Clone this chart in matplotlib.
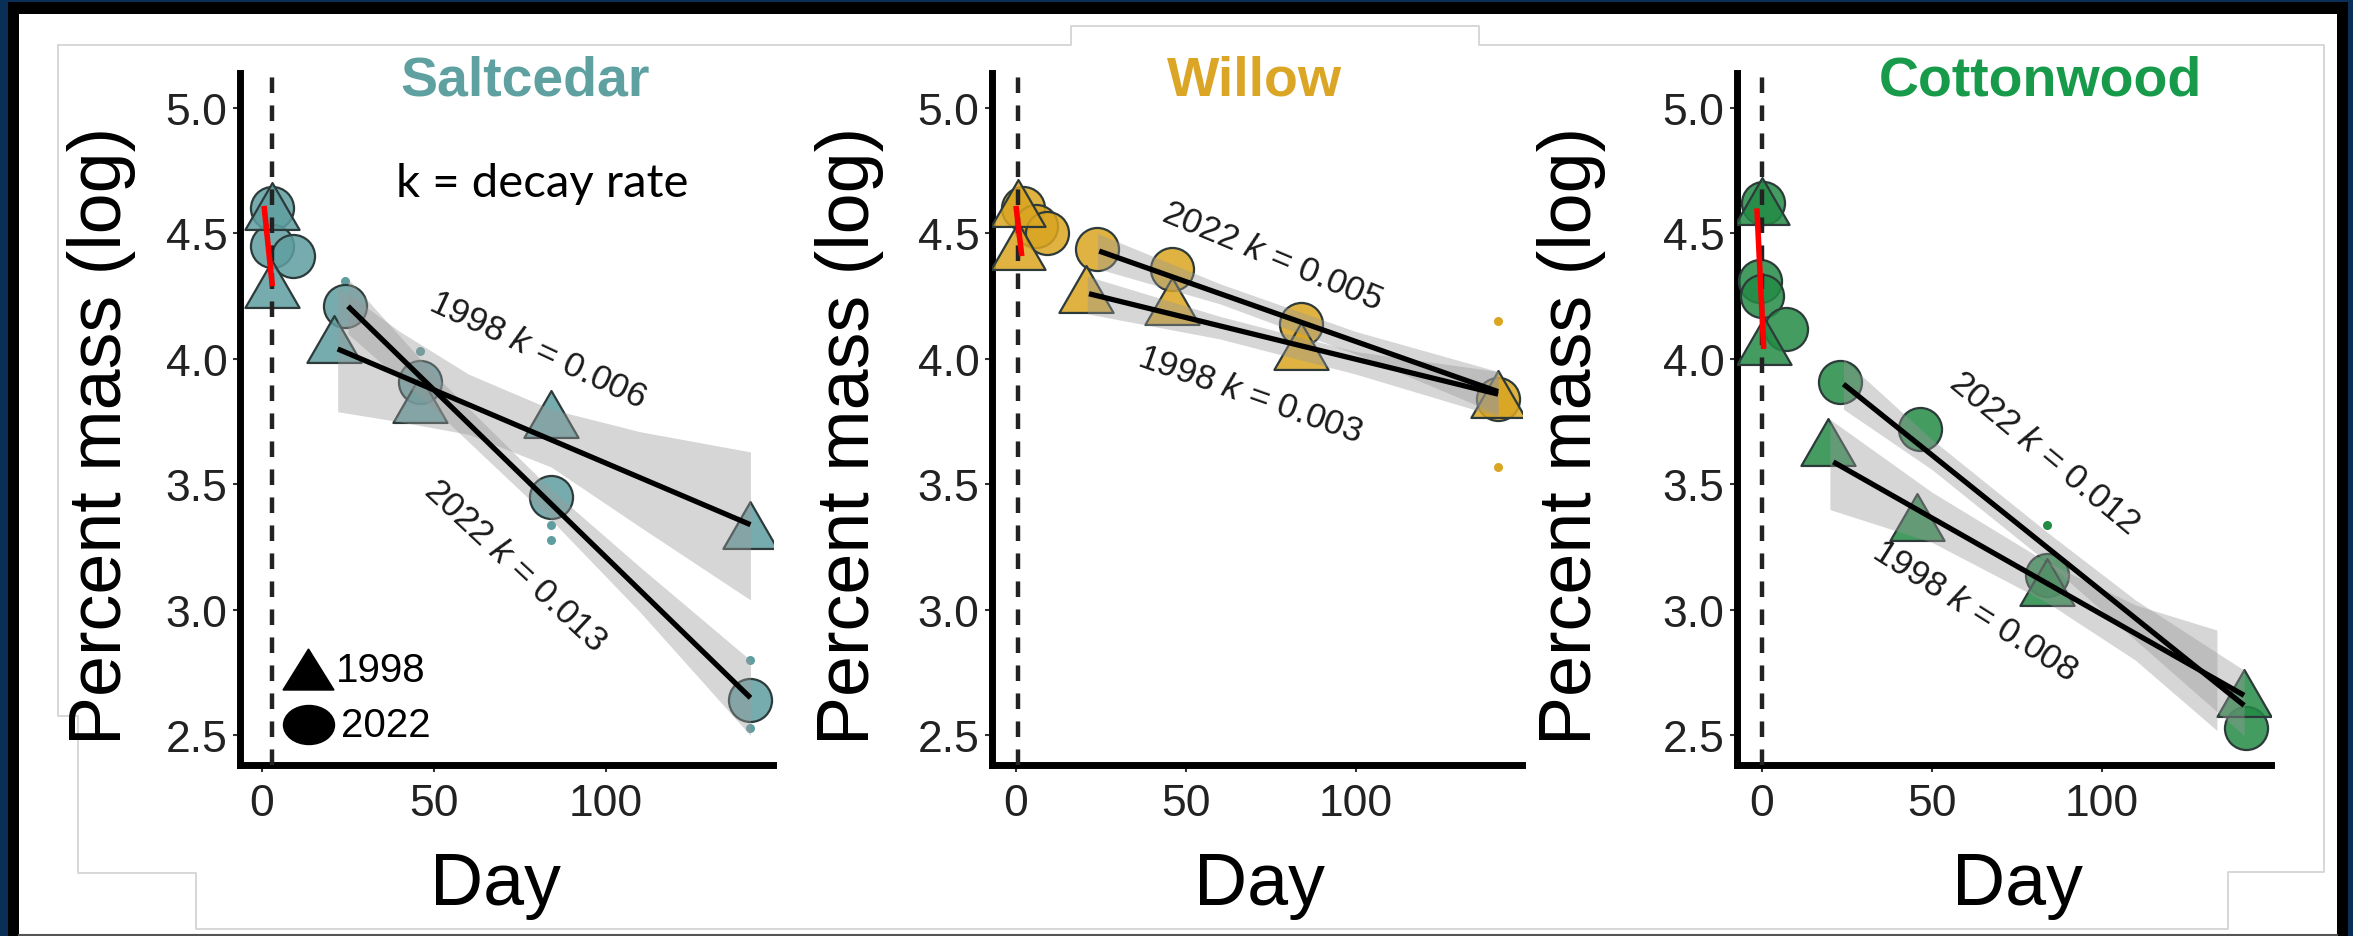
import matplotlib
matplotlib.use('Agg')
import matplotlib.pyplot as plt
from matplotlib.path import Path
from matplotlib.patches import Rectangle, Ellipse, Polygon
from matplotlib.transforms import Affine2D
from matplotlib.colors import to_rgba
import matplotlib.lines as mlines

plt.rcParams['font.family'] = ['Liberation Sans', 'DejaVu Sans']
plt.rcParams['mathtext.fontset'] = 'custom'
plt.rcParams['mathtext.rm'] = 'Liberation Sans'
plt.rcParams['mathtext.it'] = 'Liberation Sans:italic'

W, H = 2353, 937

# ---------------- data ----------------
titles = ['Saltcedar', 'Willow', 'Cottonwood']
colors = ['#5f9ea0', '#daa520', '#238b45']
title_colors = ['#5fa0a0', '#dba525', '#179a4a']

# Saltcedar
sc_tri_days = [3, 3, 21, 46, 84, 142]
sc_tri_vals = [4.61, 4.30, 4.08, 3.84, 3.78, 3.34]
sc_cir_days = [3, 3, 9, 24, 46, 84, 142]
sc_cir_vals = [4.60, 4.45, 4.41, 4.21, 3.91, 3.45, 2.64]
sc_dot_days = [24, 46, 84, 84, 142, 142]
sc_dot_vals = [4.31, 4.03, 3.34, 3.28, 2.80, 2.53]
sc_fit98_days = [22, 142]
sc_fit98_vals = [4.04, 3.34]
sc_fit22_days = [25, 142]
sc_fit22_vals = [4.21, 2.65]
sc_red_days = [0.6, 3]
sc_red_vals = [4.61, 4.29]
sc_band98_days = [22, 40, 60, 84, 110, 142]
sc_band98_lo = [3.79, 3.75, 3.70, 3.57, 3.33, 3.04]
sc_band98_hi = [4.29, 4.11, 3.94, 3.80, 3.71, 3.63]
sc_band22_days = [25, 50, 84, 110, 142]
sc_band22_lo = [4.10, 3.80, 3.36, 2.99, 2.50]
sc_band22_hi = [4.32, 3.94, 3.48, 3.17, 2.80]

# Willow
wi_tri_days = [0.5, 0.5, 20.5, 46, 84, 142]
wi_tri_vals = [4.62, 4.45, 4.28, 4.23, 4.05, 3.86]
wi_cir_days = [2, 6, 9, 24, 46, 84, 142]
wi_cir_vals = [4.60, 4.53, 4.50, 4.44, 4.36, 4.14, 3.84]
wi_dot_days = [142, 142]
wi_dot_vals = [4.15, 3.57]
wi_fit98_days = [21.5, 142]
wi_fit98_vals = [4.26, 3.86]
wi_fit22_days = [24.5, 142]
wi_fit22_vals = [4.43, 3.87]
wi_red_days = [0, 1.7]
wi_red_vals = [4.61, 4.41]
wi_band98_days = [21, 60, 100, 142]
wi_band98_lo = [4.18, 4.08, 3.94, 3.77]
wi_band98_hi = [4.33, 4.17, 4.03, 3.95]
wi_band22_days = [24, 60, 100, 142]
wi_band22_lo = [4.36, 4.22, 4.02, 3.78]
wi_band22_hi = [4.50, 4.30, 4.11, 3.95]

# Cottonwood
co_tri_days = [0, 0.5, 19.5, 45.7, 84, 142]
co_tri_vals = [4.63, 4.07, 3.67, 3.37, 3.11, 2.67]
co_cir_days = [0.3, -0.5, 0, 7, 23, 46.5, 84, 142.6]
co_cir_vals = [4.62, 4.31, 4.25, 4.12, 3.91, 3.72, 3.14, 2.53]
co_dot_days = [84]
co_dot_vals = [3.34]
co_fit98_days = [21, 142]
co_fit98_vals = [3.59, 2.66]
co_fit22_days = [24, 142]
co_fit22_vals = [3.90, 2.62]
co_red_days = [-1.5, 0.5]
co_red_vals = [4.60, 4.04]
co_band98_days = [20, 50, 84, 110, 134]
co_band98_lo = [3.40, 3.27, 3.03, 2.80, 2.52]
co_band98_hi = [3.76, 3.47, 3.19, 3.02, 2.92]
co_band22_days = [24, 50, 84, 110, 142]
co_band22_lo = [3.80, 3.56, 3.19, 2.88, 2.50]
co_band22_hi = [4.00, 3.68, 3.31, 3.04, 2.76]

# annotation labels
sc_labels = ['1998 $k$ = 0.006', '2022 $k$ = 0.013']
wi_labels = ['2022 $k$ = 0.005', '1998 $k$ = 0.003']
co_labels = ['2022 $k$ = 0.012', '1998 $k$ = 0.008']

x_ticks = [0, 50, 100]
y_ticks = [2.5, 3.0, 3.5, 4.0, 4.5, 5.0]
y_ticklabels = ['2.5', '3.0', '3.5', '4.0', '4.5', '5.0']
legend_labels = ['1998', '2022']

# --------------- layout -----------------
fig = plt.figure(figsize=(W / 100, H / 100), dpi=100)
fig.patch.set_facecolor('#0a2f57')
px = Affine2D().scale(1.0 / W, -1.0 / H).translate(0, 1) + fig.transFigure

fig.patches.append(Rectangle((8, 3), 2340, 940, transform=px, facecolor='black',
                             edgecolor='none', zorder=-3))
fig.patches.append(Rectangle((19, 15), 2318, 921, transform=px, facecolor='white',
                             edgecolor='none', zorder=-2))
# faint outlines of pasted panels
deco = [
    [(58, 47), (58, 717), (78, 717), (78, 874), (196, 874), (196, 930), (2228, 930),
     (2228, 873), (2324, 873), (2324, 46), (1479, 46), (1479, 27), (1071, 27),
     (1071, 46), (58, 46)],
]
for d in deco:
    xs, ys = zip(*d)
    fig.lines.append(mlines.Line2D(xs, ys, transform=px, color='#d4d4d4', lw=1.3, zorder=-1))
fig.lines.append(mlines.Line2D([19, 2337], [935.5, 935.5], transform=px, color='#555555',
                               lw=1.5, zorder=-1))

axes_px = [(240, 773), (992, 1522), (1737, 2271)]
zero_px = [262, 1016, 1762]
px_per_day = [3.44, 3.395, 3.395]
top_px, bot_px = 74, 766
ylim = (5.0 - (bot_px - 109) / 251.0, 5.0 + (109 - top_px) / 251.0)
vline_day = [3, 0.6, 0]

data = [
    dict(tri=(sc_tri_days, sc_tri_vals), cir=(sc_cir_days, sc_cir_vals), dot=(sc_dot_days, sc_dot_vals),
         fit98=(sc_fit98_days, sc_fit98_vals), fit22=(sc_fit22_days, sc_fit22_vals),
         red=(sc_red_days, sc_red_vals),
         b98=(sc_band98_days, sc_band98_lo, sc_band98_hi), b22=(sc_band22_days, sc_band22_lo, sc_band22_hi),
         labels=sc_labels, lpos=[(80, 4.04, -25), (73.5, 3.18, -43)]),
    dict(tri=(wi_tri_days, wi_tri_vals), cir=(wi_cir_days, wi_cir_vals), dot=(wi_dot_days, wi_dot_vals),
         fit98=(wi_fit98_days, wi_fit98_vals), fit22=(wi_fit22_days, wi_fit22_vals),
         red=(wi_red_days, wi_red_vals),
         b98=(wi_band98_days, wi_band98_lo, wi_band98_hi), b22=(wi_band22_days, wi_band22_lo, wi_band22_hi),
         labels=wi_labels, lpos=[(75.4, 4.41, -22.6), (69, 3.86, -19.3)]),
    dict(tri=(co_tri_days, co_tri_vals), cir=(co_cir_days, co_cir_vals), dot=(co_dot_days, co_dot_vals),
         fit98=(co_fit98_days, co_fit98_vals), fit22=(co_fit22_days, co_fit22_vals),
         red=(co_red_days, co_red_vals),
         b98=(co_band98_days, co_band98_lo, co_band98_hi), b22=(co_band22_days, co_band22_lo, co_band22_hi),
         labels=co_labels, lpos=[(83, 3.63, -39.6), (62.7, 3.00, -32.3)]),
]

tri_marker = Path([(0, 0.866), (-1, -0.866), (1, -0.866), (0, 0.866)],
                  [Path.MOVETO, Path.LINETO, Path.LINETO, Path.CLOSEPOLY])

title_x = [525, 1254, 2040]
ylab_x = [102, 850, 1572]
day_x = [495, 1260, 2018]

for i in range(3):
    l, r = axes_px[i]
    ax = fig.add_axes([l / W, 1 - bot_px / H, (r - l) / W, (bot_px - top_px) / H])
    ax.set_facecolor('none')
    ax.set_zorder(1)
    xl = (l - zero_px[i]) / px_per_day[i]
    xr = (r - zero_px[i]) / px_per_day[i]
    ax.set_xlim(xl, xr)
    ax.set_ylim(*ylim)
    for s in ['top', 'right']:
        ax.spines[s].set_visible(False)
    for s in ['left', 'bottom']:
        ax.spines[s].set_linewidth(5)
        ax.spines[s].set_color('black')
        ax.spines[s].set_capstyle('projecting')
    ax.set_xticks(x_ticks)
    ax.set_yticks(y_ticks)
    ax.set_yticklabels(y_ticklabels)
    ax.tick_params(axis='both', length=5, width=1.5, color='#333333',
                   labelsize=32, labelcolor='#222222', pad=4)
    ax.tick_params(axis='x', pad=8)

    d = data[i]
    c = colors[i]
    face = to_rgba(c, 0.85)

    ax.axvline(vline_day[i], color='#222222', lw=3.2, ls=(0, (3.5, 2.8)), zorder=4.5)
    ax.plot(*d['dot'], ls='none', marker='o', ms=6.5, color=c, mec='none', zorder=2)
    ax.plot(*d['cir'], ls='none', marker='o', ms=31, mfc=face, mec='#2d3a3a', mew=1.6, zorder=3)
    ax.plot(*d['tri'], ls='none', marker=tri_marker, ms=39, mfc=face, mec='#2d3a3a', mew=1.6, zorder=3.2)
    for key in ['b98', 'b22']:
        bd, lo, hi = d[key]
        ax.fill_between(bd, lo, hi, color='#999999', alpha=0.4, lw=0, zorder=4)
    ax.plot(*d['fit98'], color='black', lw=3.8, solid_capstyle='butt', zorder=5)
    ax.plot(*d['fit22'], color='black', lw=3.8, solid_capstyle='butt', zorder=5)
    ax.plot(*d['red'], color='#ff0000', lw=4, solid_capstyle='butt', zorder=6)

    for lab, (tx, ty, rot) in zip(d['labels'], d['lpos']):
        ax.text(tx, ty, lab, rotation=rot, rotation_mode='anchor', ha='center', va='center',
                fontsize=25.5, color='#1a1a1a', zorder=7)

    fig.text(title_x[i] / W, 1 - 82 / H, titles[i], color=title_colors[i], fontsize=40,
             fontweight='bold', ha='center', va='center')
    fig.text(ylab_x[i] / W, 1 - 436 / H, 'Percent mass (log)', rotation=90, fontsize=53,
             ha='center', va='center', color='black')
    fig.text(day_x[i] / W, 1 - 886 / H, 'Day', fontsize=53, ha='center', va='center', color='black')

    if i == 0:
        ax.text(81.4, 4.70, 'k = decay rate', fontsize=34, family=['Lato', 'DejaVu Sans'],
                ha='center', va='center', color='black')

# legend in panel 1
fig.patches.append(Polygon([(308.5, 650), (283, 691), (334, 691)], closed=True, transform=px,
                           facecolor='black', edgecolor='black', zorder=10))
fig.patches.append(Ellipse((309, 726), 51, 39, transform=px, facecolor='black',
                           edgecolor='black', zorder=10))
fig.text(336 / W, 1 - 671 / H, legend_labels[0], fontsize=29, ha='left', va='center')
fig.text(341 / W, 1 - 726 / H, legend_labels[1], fontsize=29, ha='left', va='center')

fig.savefig('out.png', dpi=100, facecolor=fig.get_facecolor())
